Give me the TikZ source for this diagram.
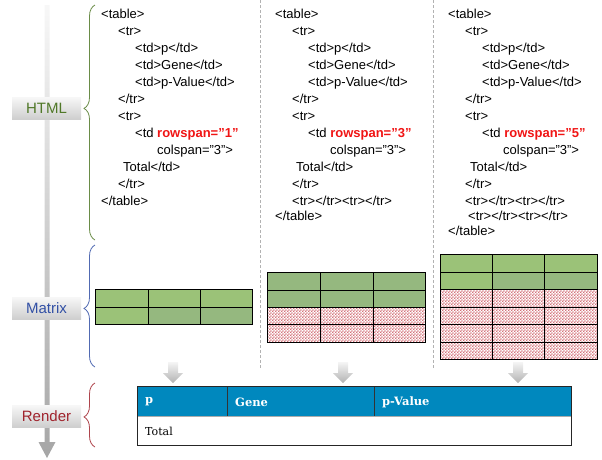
\documentclass[tikz,border=0pt]{standalone}
\usepackage{fontspec}
\setmainfont{Liberation Sans}
\newfontfamily\renderfont{DejaVu Serif}
\usetikzlibrary{decorations.pathreplacing,patterns}
\pgfdeclarepatternformonly{finecheck}{\pgfpointorigin}{\pgfqpoint{2.8pt}{2.8pt}}{\pgfqpoint{2.8pt}{2.8pt}}{%
  \pgfpathrectangle{\pgfpointorigin}{\pgfqpoint{1.45pt}{1.45pt}}%
  \pgfpathrectangle{\pgfqpoint{1.4pt}{1.4pt}}{\pgfqpoint{1.45pt}{1.45pt}}%
  \pgfusepath{fill}}
\definecolor{lgreen}{RGB}{155,194,120}
\definecolor{dgreen}{RGB}{149,184,127}
\definecolor{pinkpat}{RGB}{212,115,122}
\definecolor{hblue}{RGB}{0,136,190}
\definecolor{htmlc}{RGB}{80,120,40}
\definecolor{matc}{RGB}{50,80,165}
\definecolor{renc}{RGB}{160,35,45}
\definecolor{rowred}{RGB}{240,20,20}
\tikzset{
  code/.style={anchor=base west, inner sep=0pt, font=\fontsize{13}{15}\selectfont},
  lab/.style={minimum width=69pt, minimum height=22pt, inner sep=0pt, top color=gray!6, bottom color=gray!38, font=\fontsize{15}{17}\selectfont},
  grid/.style={draw=black, line width=1pt},
  pink/.style={pattern=finecheck, pattern color=pinkpat},
  sep/.style={draw=gray!60, line width=1pt, dash pattern=on 3pt off 2pt},
  hdr/.style={anchor=west, inner sep=0pt, text=white, font=\renderfont\bfseries\fontsize{11.5}{13}\selectfont},
  brc/.style={decorate, line width=0.8pt},
  down/.style={top color=gray!8, bottom color=gray!60}
}
\newcommand{\rs}[1]{\textcolor{rowred}{\bfseries rowspan="#1"}}
\begin{document}
\begin{tikzpicture}[x=1pt,y=-1pt]
\useasboundingbox (0,0) rectangle (602,459);
% main vertical arrow
\shade[top color=gray!6, bottom color=gray!70] (44.5,5) -- (49.5,5) -- (49.5,442) -- (55.5,442) -- (47,458) -- (38.5,442) -- (44.5,442) -- cycle;
% labels
\node[lab, text=htmlc] (lhtml) at (46.5,108) {HTML};
\node[lab, text=matc] (lmat) at (46.5,308) {Matrix};
\node[lab, text=renc] (lren) at (46.5,416) {Render};
% braces
\draw[brc, htmlc!85!white, decoration={brace, amplitude=11pt, aspect=0.56}] (95,240) -- (95,5);
\draw[brc, matc!85!white, decoration={brace, amplitude=11pt, aspect=0.48}] (95,367) -- (95,245);
\draw[brc, renc!85!white, decoration={brace, amplitude=11pt, aspect=0.47}] (95,447) -- (95,383);
% separators
\draw[sep] (260,0) -- (260,368);
\draw[sep] (433,0) -- (433,368);
% code column 1
\node[code] (a0) at (101,18) {<table>};
\node[code] (a1) at (118,35) {<tr>};
\node[code] (a2) at (135,52) {<td>p</td>};
\node[code] (a3) at (135,69) {<td>Gene</td>};
\node[code] (a4) at (135,86) {<td>p-Value</td>};
\node[code] (a5) at (118,103) {</tr>};
\node[code] (a6) at (118,120) {<tr>};
\node[code] (a7) at (135,137) {<td \rs{1}};
\node[code] (a8) at (157,154) {colspan="3">};
\node[code] (a9) at (123,171) {Total</td>};
\node[code] (a10) at (118,188) {</tr>};
\node[code] (a11) at (101,205) {</table>};
% code column 2
\node[code] (b0) at (275,18) {<table>};
\node[code] (b1) at (292,35) {<tr>};
\node[code] (b2) at (308,52) {<td>p</td>};
\node[code] (b3) at (308,69) {<td>Gene</td>};
\node[code] (b4) at (308,86) {<td>p-Value</td>};
\node[code] (b5) at (292,103) {</tr>};
\node[code] (b6) at (292,120) {<tr>};
\node[code] (b7) at (308,137) {<td \rs{3}};
\node[code] (b8) at (330,154) {colspan="3">};
\node[code] (b9) at (296,171) {Total</td>};
\node[code] (b10) at (292,188) {</tr>};
\node[code] (b11) at (292,205) {<tr></tr><tr></tr>};
\node[code] (b12) at (275,220) {</table>};
% code column 3
\node[code] (c0) at (448,18) {<table>};
\node[code] (c1) at (465,35) {<tr>};
\node[code] (c2) at (482,52) {<td>p</td>};
\node[code] (c3) at (482,69) {<td>Gene</td>};
\node[code] (c4) at (482,86) {<td>p-Value</td>};
\node[code] (c5) at (465,103) {</tr>};
\node[code] (c6) at (465,120) {<tr>};
\node[code] (c7) at (482,137) {<td \rs{5}};
\node[code] (c8) at (503,154) {colspan="3">};
\node[code] (c9) at (470,171) {Total</td>};
\node[code] (c10) at (465,188) {</tr>};
\node[code] (c11) at (465,205) {<tr></tr><tr></tr>};
\node[code] (c12) at (468,220) {<tr></tr><tr></tr>};
\node[code] (c13) at (448,235) {</table>};
% matrix 1
\fill[lgreen] (95,289) rectangle (252,307);
\fill[lgreen] (95,307) rectangle (148,324);
\fill[dgreen] (148,307) rectangle (252,324);
\draw[grid] (95,289) rectangle (252,324);
\draw[grid] (148,289) -- (148,324) (200,289) -- (200,324) (95,307) -- (252,307);
% matrix 2
\fill[dgreen] (267,272) rectangle (425,307);
\fill[white] (267,307) rectangle (425,342);
\fill[pink] (267,307) rectangle (425,342);
\draw[grid] (267,272) rectangle (425,342);
\draw[grid] (320,272) -- (320,342) (373,272) -- (373,342);
\draw[grid] (267,290) -- (425,290) (267,307) -- (425,307) (267,324) -- (425,324);
% matrix 3
\fill[lgreen] (440,254) rectangle (597,272);
\fill[lgreen] (440,272) rectangle (492,289);
\fill[dgreen] (492,272) rectangle (597,289);
\fill[white] (440,289) rectangle (597,359);
\fill[pink] (440,289) rectangle (597,359);
\draw[grid] (440,254) rectangle (597,359);
\draw[grid] (492,254) -- (492,359) (544,254) -- (544,359);
\draw[grid] (440,272) -- (597,272) (440,289) -- (597,289) (440,307) -- (597,307) (440,324) -- (597,324) (440,342) -- (597,342);
% down arrows
\foreach \cx in {173,343,518}{
  \shade[down] (\cx-5,362) -- (\cx+5,362) -- (\cx+5,373) -- (\cx+10,373) -- (\cx,383) -- (\cx-10,373) -- (\cx-5,373) -- cycle;
}
% render table
\fill[hblue] (137,386) rectangle (571,416);
\draw[gray!65, line width=1.5pt] (137,416.5) -- (571,416.5);
\draw[black!80, line width=0.8pt] (227,386) -- (227,416) (374,386) -- (374,416);
\draw[black!85, line width=0.9pt] (137,386) rectangle (571,445);
\node[hdr] (hp) at (145,402) {p};
\node[hdr] (hg) at (235,402) {Gene};
\node[hdr] (hv) at (382,402) {p-Value};
\node[anchor=west, inner sep=0pt, font=\renderfont\fontsize{11}{13}\selectfont] (tot) at (145,431) {Total};
\end{tikzpicture}
\end{document}
